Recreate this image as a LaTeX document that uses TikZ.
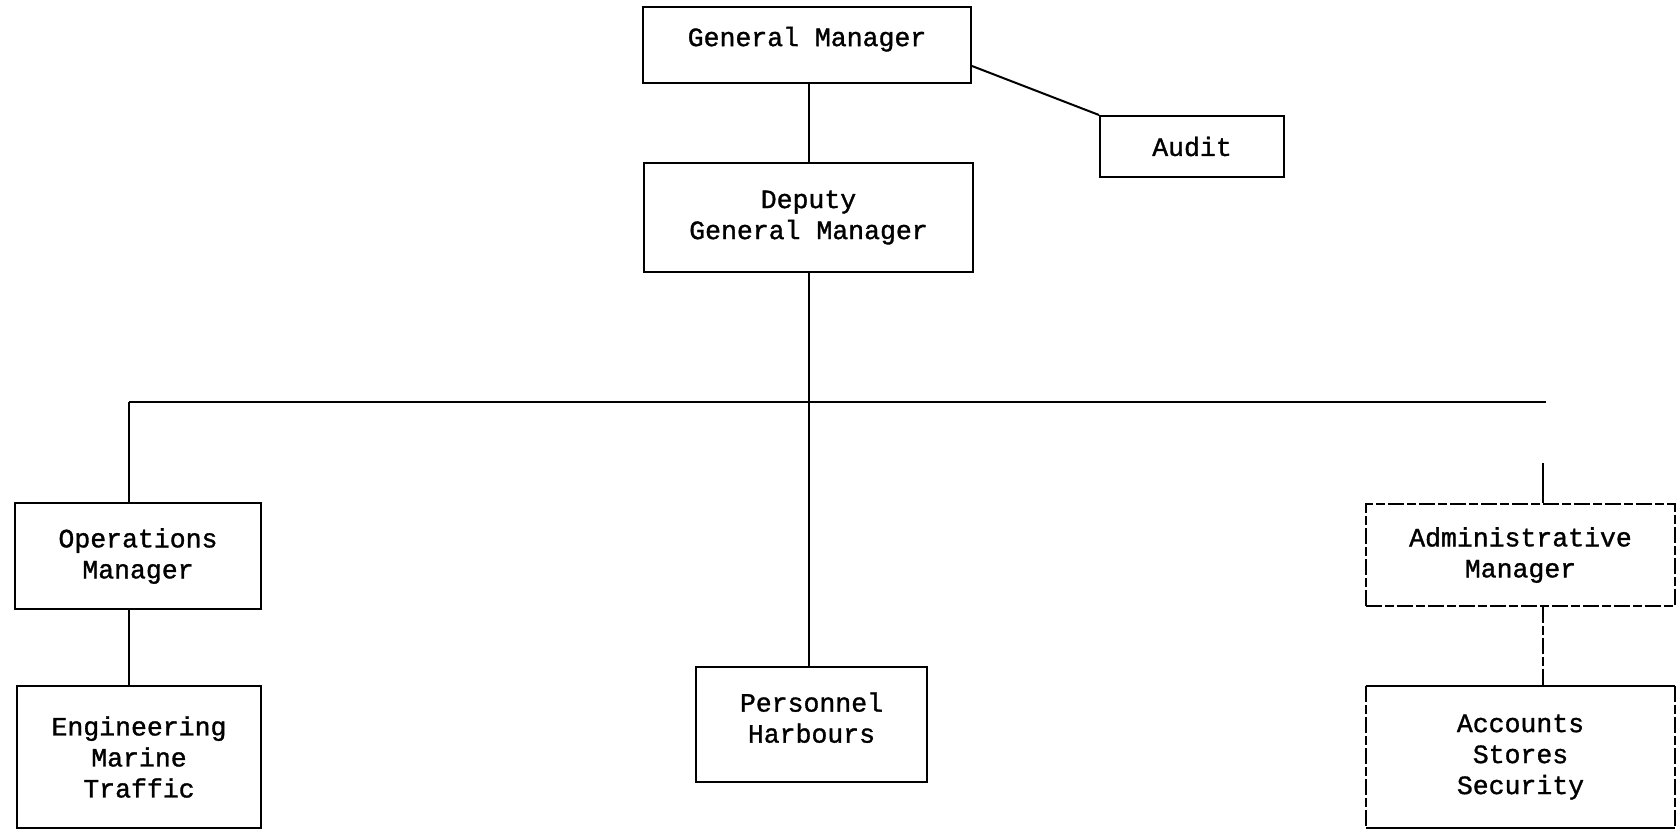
\documentclass[tikz,border=0pt]{standalone}
\usepackage{fontspec}
\newfontfamily\typew[FakeBold=1.2]{Liberation Mono}
\begin{document}
\begin{tikzpicture}[x=1pt,y=-1pt,
  txt/.style={inner sep=0pt, align=center, font=\typew\fontsize{26.5}{31}\selectfont},
  box/.style={txt, draw, line width=2pt},
  link/.style={line width=2pt},
  brokenline/.style={line width=1.6pt, dash pattern=on 16pt off 3pt on 9pt off 3pt},
  brokenbox/.style={txt, draw, brokenline}]
\useasboundingbox (0,0) rectangle (1680,830);

% top management
\node[box, minimum width=328pt, minimum height=76pt, text depth=17pt] (gm) at (807,45) {General Manager};
\node[box, minimum width=184pt, minimum height=61pt] (audit) at (1192,146.5) {Audit};
\node[box, minimum width=329pt, minimum height=109pt] (dgm) at (808.5,217.5) {Deputy\\General Manager};

% managers
\node[box, minimum width=246pt, minimum height=106pt] (ops) at (138,556) {Operations\\Manager};
\node[brokenbox, minimum width=309pt, minimum height=102pt] (admin) at (1520.5,555) {Administrative\\Manager};

% departments
\node[box, minimum width=244pt, minimum height=142pt] (eng) at (139,757) {Engineering\\Marine\\Traffic};
\node[box, minimum width=231pt, minimum height=115pt, text depth=14pt] (pers) at (811.5,724.5) {Personnel\\Harbours};
\node[txt, minimum width=309pt, minimum height=142pt] (acc) at (1520.5,757) {Accounts\\Stores\\Security};
\draw[link] (acc.north west) -- (acc.north east);
\draw[link] (acc.south west) -- (acc.south east);
\draw[brokenline] (acc.north west) -- (acc.south west);
\draw[brokenline] (acc.north east) -- (acc.south east);

% connectors
\coordinate (busL) at (129,402);
\coordinate (busR) at (1546,402);
\coordinate (adminstub) at (1543,463);

\draw[link] (gm.south -| dgm.north) -- (dgm.north);
\draw[link] ([yshift=18pt]gm.south east) -- (audit.north west);
\draw[link] (dgm.south) -- (dgm.south |- pers.north);
\draw[link] (busL) -- (busR);
\draw[link] (busL) -- (busL |- ops.north);
\draw[link] (busL |- ops.south) -- (busL |- eng.north);
\draw[link] (adminstub) -- (adminstub |- admin.north);
\draw[brokenline] (adminstub |- admin.south) -- (adminstub |- acc.north);
\end{tikzpicture}
\end{document}
